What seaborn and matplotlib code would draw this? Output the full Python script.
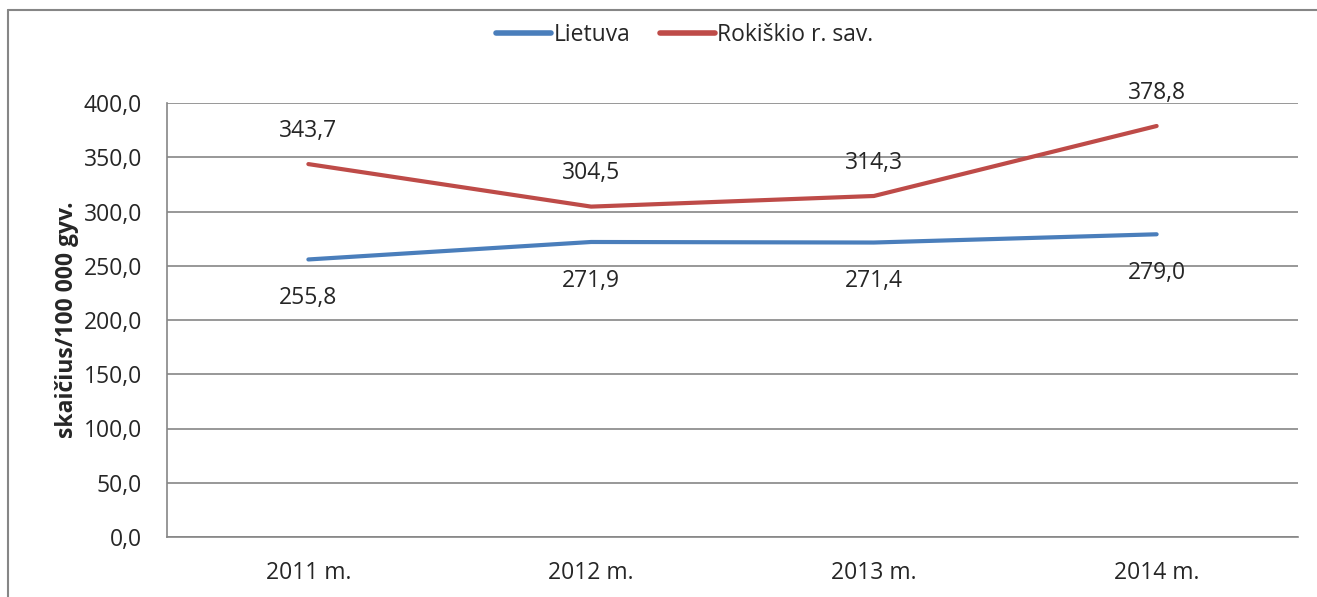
import matplotlib
matplotlib.use("Agg")
import matplotlib.pyplot as plt
import seaborn as sns
import pandas as pd
from matplotlib.lines import Line2D

years = ["2011 m.", "2012 m.", "2013 m.", "2014 m."]
lietuva = [255.8, 271.9, 271.4, 279.0]
rokiskio = [343.7, 304.5, 314.3, 378.8]
series_names = ["Lietuva", "Rokiškio r. sav."]
colors = ["#4A7EBB", "#BE4B48"]

sns.set_style("white")
plt.rcParams['font.family'] = ['Open Sans', 'DejaVu Sans']
FS = 16.5
GRAY = "#868686"

df = pd.DataFrame({
    "x": list(range(len(years))) * 2,
    "value": lietuva + rokiskio,
    "series": [series_names[0]] * len(years) + [series_names[1]] * len(years),
})

W, H = 1317, 597
fig = plt.figure(figsize=(W / 100, H / 100), dpi=100)
ax = fig.add_axes([167 / W, (H - 537) / H, (1298 - 167) / W, (537 - 103) / H])

sns.lineplot(data=df, x="x", y="value", hue="series", palette=colors,
             linewidth=3.0, ax=ax, legend=True)

ax.set_xlim(-0.5, len(years) - 0.5)
ax.set_ylim(0, 400)
ax.set_yticks([i * 50 for i in range(9)])
ax.set_yticklabels([f"{v:.1f}".replace(".", ",") for v in ax.get_yticks()], fontsize=FS)
ax.set_xticks(range(len(years)))
ax.set_xticklabels(years, fontsize=FS)
ax.set_xticks([i - 0.5 for i in range(len(years) + 1)], minor=True)
ax.tick_params(axis="x", which="major", length=0, pad=17)
ax.tick_params(axis="x", which="minor", length=6, color=GRAY, width=1.2, direction="out")
ax.tick_params(axis="y", length=6, color=GRAY, width=1.2, direction="out", pad=12)
ax.yaxis.grid(True, color=GRAY, linewidth=1.2)
ax.set_axisbelow(True)
for s in ["top", "right"]:
    ax.spines[s].set_visible(False)
for s in ["left", "bottom"]:
    ax.spines[s].set_color(GRAY)
    ax.spines[s].set_linewidth(1.2)
ax.set_xlabel("")
ax.set_ylabel("skaičius/100 000 gyv.", fontsize=FS, fontweight="bold", labelpad=3)

for i, v in enumerate(rokiskio):
    ax.annotate(f"{v:.1f}".replace(".", ","), (i, v), xytext=(0, 24), textcoords="offset points",
                ha="center", va="center", fontsize=FS)
for i, v in enumerate(lietuva):
    ax.annotate(f"{v:.1f}".replace(".", ","), (i, v), xytext=(0, -28), textcoords="offset points",
                ha="center", va="center", fontsize=FS)

leg = ax.legend(loc="center", bbox_to_anchor=(0.52, 1 - 35 / H), bbox_transform=fig.transFigure,
                ncol=2, frameon=False, fontsize=FS, handlelength=2.4, handletextpad=0.1,
                columnspacing=1.3, borderpad=0)
for h in leg.get_lines():
    h.set_linewidth(4)

fig.add_artist(Line2D([8 / W, 8 / W], [0, 1 - 10 / H], transform=fig.transFigure, color=GRAY, linewidth=1.5))
fig.add_artist(Line2D([8 / W, 1], [1 - 10 / H, 1 - 10 / H], transform=fig.transFigure, color=GRAY, linewidth=1.5))

fig.savefig("out.png", dpi=100)
